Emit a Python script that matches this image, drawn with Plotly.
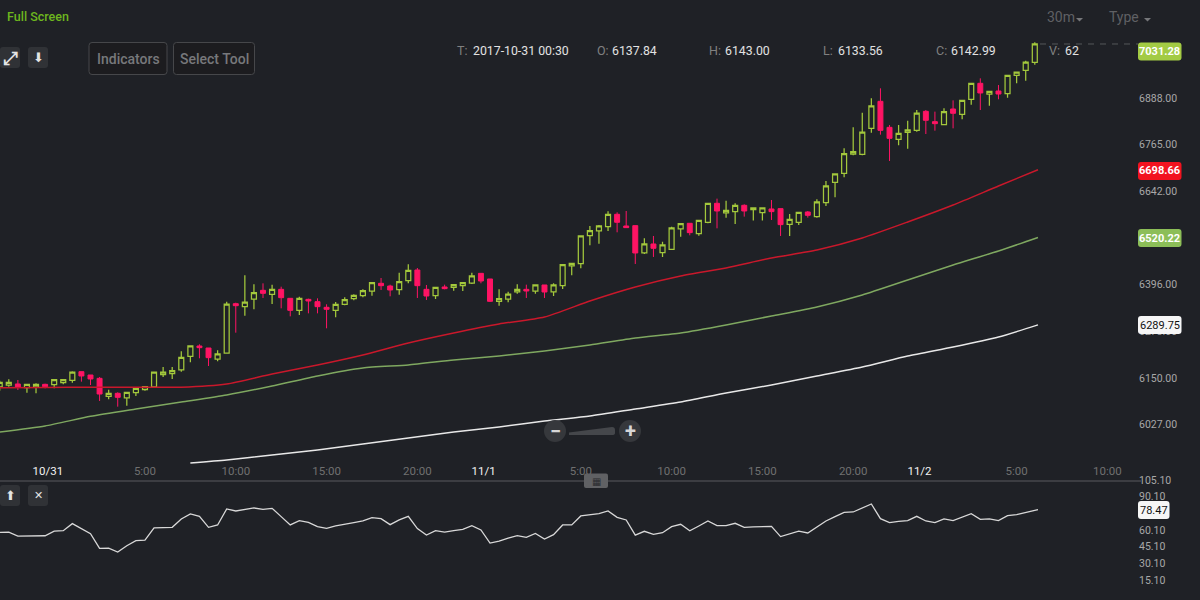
import plotly.graph_objects as go
from plotly.subplots import make_subplots
from datetime import datetime, timedelta

T0 = datetime(2017, 10, 30, 21, 0)

open_ = [6125.9,6131.1,6133.8,6124.1,6125.9,6132.9,6132.0,6137.3,6143.4,6166.3,6157.5,6148.7,6101.3,6109.2,6096.9,6110.9,6118.8,6125.9,6158.4,6161.0,
         6170.7,6206.7,6234.0,6228.7,6199.7,6215.5,6345.6,6337.7,6357.9,6380.8,6370.2,6383.4,6359.7,6328.0,6357.0,6350.9,6336.0,6328.0,6343.9,6358.8,
         6366.7,6379.0,6399.3,6392.2,6382.5,6406.3,6434.4,6383.4,6366.7,6389.6,6388.7,6393.1,6400.1,6425.6,6410.7,6351.8,6357.9,6376.4,6383.4,6379.0,
         6394.9,6376.4,6393.1,6445.0,6451.1,6525.0,6537.3,6548.7,6581.3,6550.5,6551.4,6479.3,6503.0,6480.2,6489.0,6542.6,6557.5,6530.3,6560.2,6610.3,
         6584.8,6588.3,6605.0,6593.6,6585.7,6595.3,6596.2,6554.9,6560.2,6587.4,6575.1,6612.0,6665.6,6689.3,6740.3,6739.4,6808.0,6879.2,6810.6,6779.0,
         6797.4,6802.7,6852.8,6825.6,6817.7,6859.0,6844.9,6884.5,6926.7,6898.5,6906.4,6899.4,6947.8,6960.9,6982.0]
high = [6142.6,6146.1,6144.3,6132.9,6135.5,6134.6,6147.0,6147.0,6167.2,6166.3,6157.5,6152.2,6118.8,6111.8,6111.8,6124.1,6126.7,6165.4,6178.6,6178.6,
        6219.9,6234.0,6238.4,6228.7,6222.5,6350.9,6348.2,6420.3,6396.6,6399.2,6395.7,6390.4,6359.7,6364.0,6358.8,6359.7,6343.9,6350.0,6362.3,6370.2,
        6383.4,6401.0,6413.3,6395.7,6427.4,6449.4,6439.7,6394.9,6388.7,6395.7,6397.5,6402.8,6427.4,6425.6,6410.7,6383.4,6377.3,6396.6,6395.7,6396.6,
        6394.9,6399.3,6448.5,6452.0,6524.1,6550.5,6553.1,6589.2,6586.5,6590.0,6551.4,6518.0,6524.1,6509.2,6548.7,6558.4,6557.5,6565.4,6610.3,6622.6,
        6617.3,6610.3,6607.6,6598.0,6598.0,6619.0,6596.2,6582.1,6586.5,6590.0,6620.8,6669.2,6687.6,6755.3,6810.6,6849.3,6887.1,6913.5,6816.8,6816.8,
        6828.2,6856.3,6856.3,6852.0,6860.7,6881.8,6881.8,6926.7,6939.8,6905.6,6922.2,6947.8,6956.5,6986.4,7034.8]
low = [6116.2,6126.7,6118.0,6110.9,6109.2,6122.3,6122.3,6132.9,6137.3,6139.9,6131.1,6089.0,6093.3,6074.0,6076.6,6102.1,6116.2,6124.1,6152.2,6147.0,
       6166.3,6190.9,6201.5,6181.2,6193.5,6213.8,6269.1,6314.0,6330.7,6360.6,6344.7,6333.3,6312.2,6315.7,6320.1,6320.1,6280.6,6309.6,6341.2,6354.4,
       6362.3,6366.7,6381.7,6365.0,6369.4,6399.3,6360.6,6355.3,6357.9,6383.4,6379.9,6379.0,6397.5,6399.3,6350.0,6340.4,6349.1,6372.0,6360.6,6372.0,
       6360.6,6365.8,6384.3,6420.3,6438.8,6499.5,6503.9,6537.3,6533.8,6546.1,6450.3,6476.7,6468.8,6468.8,6487.2,6522.4,6525.9,6525.0,6557.5,6544.3,
       6572.5,6555.8,6575.1,6564.6,6564.6,6566.3,6524.1,6524.1,6553.1,6572.5,6572.5,6603.2,6626.0,6678.8,6736.8,6736.8,6796.6,6791.3,6721.9,6763.2,
       6754.4,6799.2,6793.0,6801.8,6816.8,6808.0,6831.7,6870.4,6856.3,6867.8,6884.5,6888.9,6926.7,6933.7,6975.9]
close = [6138.2,6138.2,6125.9,6132.9,6132.9,6126.7,6145.2,6145.2,6165.4,6154.9,6147.0,6107.4,6109.2,6098.6,6111.8,6122.3,6126.7,6165.4,6165.4,6168.9,
         6204.0,6234.0,6229.6,6203.2,6212.9,6344.7,6340.3,6350.0,6374.6,6372.9,6383.4,6361.4,6328.0,6359.7,6352.7,6337.7,6330.7,6343.9,6356.2,6367.6,
         6379.9,6401.0,6393.1,6381.7,6403.6,6433.5,6393.1,6365.8,6388.7,6385.2,6395.7,6401.0,6418.6,6405.4,6351.8,6358.8,6371.1,6383.4,6379.0,6394.9,
         6376.4,6394.9,6448.5,6452.0,6524.1,6538.2,6550.5,6581.3,6560.2,6546.1,6479.3,6503.0,6491.6,6500.4,6545.2,6556.7,6532.9,6565.4,6610.3,6590.0,
         6591.8,6605.0,6590.0,6598.0,6598.0,6588.3,6554.0,6568.1,6586.5,6578.6,6613.8,6656.0,6687.6,6741.2,6746.5,6798.3,6866.9,6802.7,6781.6,6794.8,
         6803.6,6848.4,6829.1,6820.3,6852.0,6847.6,6881.8,6926.7,6901.2,6905.6,6898.5,6947.8,6956.5,6982.9,7030.4]

ma_index = [0,5,10,15,20,25,30,35,40,45,50,55,60,65,70,75,80,85,90,95,100,105,110,114.35]
ma_red = [6124.0,6124.6,6125.1,6125.1,6125.4,6133.8,6160.2,6183.9,6210.3,6241.9,6268.3,6292.0,6310.5,6352.7,6389.6,6418.6,6439.7,6466.0,6487.2,6518.8,6561.0,6605.8,6655.9,6698.66]
ma_green = [6007.2,6023.0,6048.6,6067.9,6086.3,6104.8,6128.5,6154.9,6176.0,6183.9,6197.1,6207.6,6220.8,6236.6,6255.1,6268.3,6289.4,6313.1,6336.9,6368.5,6408.0,6447.6,6484.5,6520.22]
white_index = [21,25,30,35,40,45,50,55,60,65,70,75,80,85,90,95,100,105,110,114.35]
ma_white = [5925.5,5933.4,5946.6,5959.8,5975.6,5991.4,6007.2,6020.4,6036.2,6049.4,6067.9,6086.3,6110.1,6131.2,6154.9,6178.6,6207.6,6231.4,6257.7,6289.75]

rsi = [57.9,58.2,54.6,54.8,54.9,54.9,59.1,59.4,65.8,61.6,56.8,43.5,43.8,40.2,45.9,50.4,51.0,61.9,61.9,62.5,
       70.0,74.5,72.4,62.5,64.6,79.0,77.2,78.5,79.9,78.7,79.6,72.1,64.6,68.5,67.0,63.1,61.6,63.7,65.5,66.7,
       68.2,71.2,70.3,64.9,69.1,72.4,61.3,55.5,59.4,58.2,59.4,60.7,64.0,60.1,48.3,50.1,52.8,54.9,53.4,57.0,
       51.9,55.9,64.6,64.6,72.7,73.9,74.8,77.2,71.5,69.1,55.5,58.9,56.1,57.6,63.1,65.2,59.4,63.7,68.2,64.0,
       64.0,66.1,62.5,62.8,63.4,63.4,54.1,56.4,59.1,57.4,63.1,68.2,72.1,76.0,76.3,79.9,83.5,70.3,66.7,67.9,
       68.5,72.4,68.2,66.7,70.0,68.5,71.8,74.8,69.7,70.0,68.5,73.0,73.9,75.7,78.47]

price_ticks = [6027,6150,6273,6396,6642,6765,6888]
rsi_ticks = [15.1,30.1,45.1,60.1,90.1,105.1]
time_ticks = ["2017-10-31 05:00","2017-10-31 10:00","2017-10-31 15:00","2017-10-31 20:00",
              "2017-11-01 05:00","2017-11-01 10:00","2017-11-01 15:00","2017-11-01 20:00",
              "2017-11-02 05:00","2017-11-02 10:00"]
time_labels = ["5:00","10:00","15:00","20:00","5:00","10:00","15:00","20:00","5:00","10:00"]
date_ticks = ["2017-10-30 23:39","2017-10-31 23:39","2017-11-01 23:39"]
date_labels = ["10/31","11/1","11/2"]

BG = "#1f2126"
UP = "#a3c83c"
DOWN = "#ff1464"
FONT = "Roboto"


def tm(i):
    return T0 + timedelta(minutes=30 * i)


times = [tm(i) for i in range(len(close))]

fig = make_subplots(rows=2, cols=1, shared_xaxes=False, vertical_spacing=0,
                    row_heights=[0.8, 0.2])

fig.add_trace(go.Candlestick(
    x=times, open=open_, high=high, low=low, close=close,
    increasing=dict(line=dict(color=UP, width=1.25), fillcolor="rgba(0,0,0,0)"),
    decreasing=dict(line=dict(color=DOWN, width=1), fillcolor=DOWN),
    whiskerwidth=0, showlegend=False, hoverinfo="skip"), row=1, col=1)

for idx, vals, col in [(ma_index, ma_red, "#c9182b"),
                       (ma_index, ma_green, "#7fa860"),
                       (white_index, ma_white, "#e8e8e8")]:
    fig.add_trace(go.Scatter(x=[tm(i) for i in idx], y=vals, mode="lines",
                             line=dict(color=col, width=1.5, shape="spline", smoothing=0.6),
                             showlegend=False, hoverinfo="skip"), row=1, col=1)

rsi_x = [tm(i) for i in range(len(rsi) - 1)] + [tm(114.35)]
fig.add_trace(go.Scatter(x=rsi_x, y=rsi, mode="lines",
                         line=dict(color="#d8d8d8", width=1.3), showlegend=False,
                         hoverinfo="skip"), row=2, col=1)

x_range = ["2017-10-30 21:01", "2017-11-02 11:41"]
axis_font = dict(family=FONT, size=11.5, color="#707070")
tickvals = time_ticks + date_ticks
ticktext = time_labels + ['<span style="color:#f2f2f2">%s</span>' % d for d in date_labels]

fig.update_xaxes(range=x_range, domain=[0, 1138 / 1200], showgrid=False, zeroline=False,
                 showline=False, rangeslider_visible=False, automargin=False)
fig.update_xaxes(tickmode="array", tickvals=tickvals, ticktext=ticktext,
                 ticklabelposition="inside", ticks="", tickfont=axis_font, row=1, col=1)
fig.update_xaxes(showticklabels=False, ticks="", row=2, col=1)

ytick_font = dict(family=FONT, size=10.5, color="#a8a8a8")
fig.update_yaxes(side="right", showgrid=False, zeroline=False, showline=False, ticks="",
                 tickfont=ytick_font, automargin=False)
fig.update_yaxes(range=[5880.6, 7146.4], domain=[0.2, 1.0], tickmode="array",
                 tickvals=price_ticks, ticktext=["%.2f" % v for v in price_ticks], row=1, col=1)
fig.update_yaxes(range=[-3.0, 105.1], domain=[0.0, 0.2], tickmode="array",
                 tickvals=rsi_ticks, ticktext=["%.2f" % v for v in rsi_ticks], row=2, col=1)

shapes = []
notes = []


def px(x):
    return x / 1200


def py(y):
    return 1 - y / 600


def rrect(x0, y0, x1, y1, r, fill, line=None, width=1):
    d = (f"M{px(x0 + r)},{py(y0)} L{px(x1 - r)},{py(y0)} Q{px(x1)},{py(y0)} {px(x1)},{py(y0 + r)} "
         f"L{px(x1)},{py(y1 - r)} Q{px(x1)},{py(y1)} {px(x1 - r)},{py(y1)} L{px(x0 + r)},{py(y1)} "
         f"Q{px(x0)},{py(y1)} {px(x0)},{py(y1 - r)} L{px(x0)},{py(y0 + r)} Q{px(x0)},{py(y0)} {px(x0 + r)},{py(y0)} Z")
    shapes.append(dict(type="path", path=d, xref="paper", yref="paper", fillcolor=fill,
                       line=dict(color=line or fill, width=width if line else 0)))


def caret(x0, x1, y0, y1, color):
    d = f"M{px(x0)},{py(y0)} L{px(x1)},{py(y0)} L{px((x0 + x1) / 2)},{py(y1)} Z"
    shapes.append(dict(type="path", path=d, xref="paper", yref="paper", fillcolor=color,
                       line=dict(width=0)))


def text(x, y, s, size=12.5, color="#e0e0e0", anchor="left", family=FONT, weight=None):
    f = dict(family=family, size=size, color=color)
    if weight:
        f["weight"] = weight
    notes.append(dict(x=px(x), y=py(y), xref="paper", yref="paper", text=s, showarrow=False,
                      xanchor=anchor, yanchor="middle", font=f, borderpad=0, borderwidth=0))


# separator and last-price dashed line
shapes.append(dict(type="line", xref="paper", yref="paper", x0=0, x1=px(1141), y0=py(481), y1=py(481),
                   line=dict(color="#5a5b5e", width=1)))
shapes.append(dict(type="line", xref="paper", yref="y", x0=px(1040), x1=px(1138), y0=close[-1], y1=close[-1],
                   line=dict(color="#55575a", width=1, dash="6px,6px")))

# badges
rrect(1138, 42.5, 1181.5, 60.5, 3, "#a3cb44")
text(1159.7, 51.5, "7031.28", size=11, color="#ffffff", anchor="center", weight=700)
rrect(1138, 162, 1181.5, 180, 3, "#f2131f")
text(1159.7, 171, "6698.66", size=11, color="#ffffff", anchor="center", weight=700)
rrect(1138, 229, 1181.5, 247, 3, "#8cbe58")
text(1159.7, 238, "6520.22", size=11, color="#ffffff", anchor="center", weight=700)
rrect(1138, 316, 1181.5, 334, 3, "#f6f6f6")
text(1159.7, 325, "6289.75", size=11, color="#111111", anchor="center")
rrect(1138, 501, 1169.5, 519, 3, "#f6f6f6")
text(1153.7, 510, "78.47", size=11, color="#111111", anchor="center")

# header
for lx, label, vx, value in [(457, "T:", 473, "2017-10-31 00:30"), (597, "O:", 612, "6137.84"),
                             (709, "H:", 725, "6143.00"), (823, "L:", 838, "6133.56"),
                             (936, "C:", 951, "6142.99"), (1049, "V:", 1065, "62")]:
    text(lx, 51, label, color="#808080")
    text(vx, 51, value, size=12.3, color="#e2e2e2")

text(6.5, 17, "Full Screen", size=12.5, color="#6db61e", weight=500)
text(1046.5, 17, "30m", size=14, color="#5f6064")
caret(1076, 1083, 18, 21.5, "#76777a")
text(1108.5, 17, "Type", size=14, color="#5f6064")
caret(1144, 1151, 18, 21.5, "#76777a")

# toolbar buttons
rrect(0, 47, 20, 68, 3, "#303236")
text(10, 57.5, "⤢", size=18, color="#e4e4e4", anchor="center", family="DejaVu Sans", weight=700)
rrect(28, 47, 48, 68, 3, "#303236")
text(38, 57.5, "⬇", size=13, color="#e4e4e4", anchor="center", family="DejaVu Sans")
rrect(89, 42.5, 167, 74.5, 3, "#1c1c1f", line="#46474a")
text(128, 59, "Indicators", size=14, color="#77787b", anchor="center", weight=500)
rrect(173.5, 42.5, 254.5, 74.5, 3, "#1c1c1f", line="#46474a")
text(214, 59, "Select Tool", size=14, color="#77787b", anchor="center", weight=500)

# lower-pane buttons
rrect(0, 485, 20, 506, 3, "#303236")
text(10, 495.5, "⬆", size=13, color="#e4e4e4", anchor="center", family="DejaVu Sans")
rrect(28, 485, 48, 506, 3, "#303236")
text(38, 495.5, "✕", size=11, color="#e4e4e4", anchor="center", family="DejaVu Sans", weight=700)

# pane handle
rrect(584, 473.5, 608, 488, 2, "#606164")
text(596, 481, "▦", size=10, color="#2a2b2e", anchor="center", family="DejaVu Sans")

# zoom control
for cx, sym in [(555, "−"), (630, "+")]:
    shapes.append(dict(type="circle", xref="paper", yref="paper", x0=px(cx - 11), x1=px(cx + 11),
                       y0=py(431 + 11), y1=py(431 - 11), fillcolor="#36383c", line=dict(width=0)))
    text(cx, 430.5, sym, size=20, color="#d6d6d6", anchor="center", weight=700)
wedge = f"M{px(569)},{py(432.5)} L{px(612)},{py(427)} Q{px(615)},{py(427)} {px(615)},{py(430)} " \
        f"L{px(615)},{py(433)} Q{px(615)},{py(435)} {px(612)},{py(435)} L{px(569)},{py(435)} Z"
shapes.append(dict(type="path", path=wedge, xref="paper", yref="paper", fillcolor="#45474b",
                   line=dict(width=0)))

fig.update_layout(width=1200, height=600, margin=dict(l=0, r=0, t=0, b=0, pad=0),
                  paper_bgcolor=BG, plot_bgcolor=BG, boxgap=0.22, showlegend=False,
                  hovermode=False, shapes=shapes, annotations=notes, font=dict(family=FONT))

fig.write_html("out.html", config=dict(displayModeBar=False),
               post_script="document.body.style.margin='0';document.body.style.background='%s';" % BG)
